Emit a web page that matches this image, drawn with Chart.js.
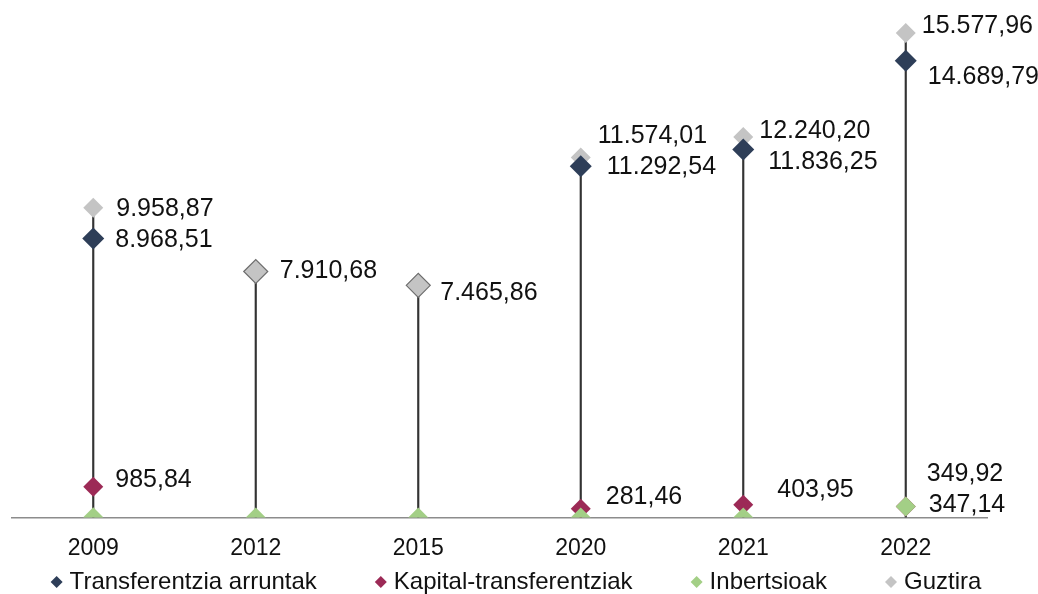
<!DOCTYPE html>
<html>
<head>
<meta charset="utf-8">
<script src="https://cdn.jsdelivr.net/npm/chart.js@4"></script>
<style>
  html, body { margin: 0; padding: 0; background: #fff; }
  #wrap { width: 1038px; height: 594px; }
</style>
</head>
<body>
<div id="wrap"><canvas id="chart"></canvas></div>
<script>
const years = ['2009', '2012', '2015', '2020', '2021', '2022'];
const arruntak = [8968.51, null, null, 11292.54, 11836.25, 14689.79];
const kapital = [985.84, null, null, 281.46, 403.95, 349.92];
const inbertsioak = [4.52, 0, 0, 0, 0, 347.14];
const guztira = [9958.87, 7910.68, 7465.86, 11574.01, 12240.20, 15577.96];

const FONT = '"Liberation Sans", Arial, sans-serif';

// number formatting: 9.958,87
function fmt(v) {
  const parts = v.toFixed(2).split('.');
  return parts[0].replace(/\B(?=(\d{3})+(?!\d))/g, '.') + ',' + parts[1];
}

// label offsets per dataset [dx, dy] (null = no label)
const labelOffsets = {
  arruntak: [[22, 2], null, null, [26, 1], [25, 13], [22, 16]],
  kapital: [[22, -7], null, null, [25, -12], [34, -15], [21, -32]],
  inbertsioak: [null, null, null, null, null, [23, -1]],
  guztira: [[23, 1], [24, 0], [22, 8], [17, -21], [16, -6], [16, -7]]
};

const ranges = years.map((_, i) => [0, Math.max(guztira[i], arruntak[i] || 0)]);

const valueLabels = {
  id: 'valueLabels',
  afterDatasetsDraw(chart) {
    const ctx = chart.ctx;
    ctx.save();
    ctx.font = '25px ' + FONT;
    ctx.fillStyle = '#111';
    ctx.textBaseline = 'middle';
    ctx.textAlign = 'left';
    chart.data.datasets.forEach((ds, di) => {
      const offs = labelOffsets[ds.key];
      if (!offs) return;
      const meta = chart.getDatasetMeta(di);
      meta.data.forEach((pt, i) => {
        const o = offs[i];
        const v = ds.data[i];
        if (!o || v == null) return;
        ctx.fillText(fmt(v), pt.x + o[0], pt.y + o[1]);
      });
    });
    ctx.restore();
  }
};

// legend drawn at the bottom, in dataset order
const bottomLegend = {
  id: 'bottomLegend',
  afterDraw(chart) {
    const ctx = chart.ctx;
    ctx.save();
    ctx.font = '24px ' + FONT;
    ctx.textBaseline = 'middle';
    const items = chart.data.datasets.filter(ds => ds.key !== 'stems');
    const gap = 64, mark = 13;
    const widths = items.map(ds => mark + ctx.measureText(ds.label).width);
    const total = widths.reduce((a, b) => a + b, 0) + gap * (items.length - 1);
    let x = (chart.width - total) / 2;
    const y = 582;
    items.forEach((ds, i) => {
      const c = Array.isArray(ds.backgroundColor) ? ds.backgroundColor[0] : ds.backgroundColor;
      ctx.fillStyle = c;
      ctx.beginPath();
      ctx.moveTo(x, y - 6);
      ctx.lineTo(x + 6, y);
      ctx.lineTo(x, y + 6);
      ctx.lineTo(x - 6, y);
      ctx.closePath();
      ctx.fill();
      ctx.fillStyle = '#111';
      ctx.fillText(ds.label, x + mark, y);
      x += widths[i] + gap;
    });
    ctx.restore();
  }
};

const ctx = document.getElementById('chart').getContext('2d');
new Chart(ctx, {
  data: {
    labels: years,
    datasets: [
      {
        key: 'stems',
        type: 'bar',
        label: 'stems',
        data: ranges,
        backgroundColor: '#333333',
        barThickness: 1.5,
        order: 10
      },
      {
        key: 'arruntak',
        type: 'line',
        label: 'Transferentzia arruntak',
        data: arruntak,
        showLine: false,
        pointStyle: 'rectRot',
        pointRadius: 11,
        backgroundColor: '#2e3e58',
        borderColor: '#2e3e58',
        borderWidth: 0,
        order: 2
      },
      {
        key: 'kapital',
        type: 'line',
        label: 'Kapital-transferentziak',
        data: kapital,
        showLine: false,
        pointStyle: 'rectRot',
        pointRadius: 10,
        backgroundColor: '#9c2a56',
        borderColor: '#9c2a56',
        borderWidth: 0,
        order: 3
      },
      {
        key: 'inbertsioak',
        type: 'line',
        label: 'Inbertsioak',
        data: inbertsioak,
        showLine: false,
        pointStyle: 'rectRot',
        pointRadius: 10,
        backgroundColor: '#a3cf86',
        borderColor: '#a3cf86',
        borderWidth: 0,
        order: 1
      },
      {
        key: 'guztira',
        type: 'line',
        label: 'Guztira',
        data: guztira,
        showLine: false,
        pointStyle: 'rectRot',
        pointRadius: [10, 12, 12, 10, 10, 10],
        backgroundColor: '#c4c4c4',
        borderColor: ['#c4c4c4', '#6e6e6e', '#6e6e6e', '#c4c4c4', '#c4c4c4', '#c4c4c4'],
        borderWidth: [0, 1.2, 1.2, 0, 0, 0],
        order: 4
      }
    ]
  },
  options: {
    responsive: true,
    maintainAspectRatio: false,
    animation: false,
    layout: { padding: { left: 12, right: 51, top: 20, bottom: 23 } },
    scales: {
      x: {
        grid: { display: false },
        border: { display: true, color: '#8c8c8c', width: 1.5 },
        ticks: {
          color: '#111',
          font: { family: FONT, size: 23 },
          padding: 9
        }
      },
      y: {
        display: false,
        min: 0,
        max: 16000
      }
    },
    plugins: {
      tooltip: { enabled: false },
      legend: { display: false }
    }
  },
  plugins: [valueLabels, bottomLegend]
});
</script>
</body>
</html>
